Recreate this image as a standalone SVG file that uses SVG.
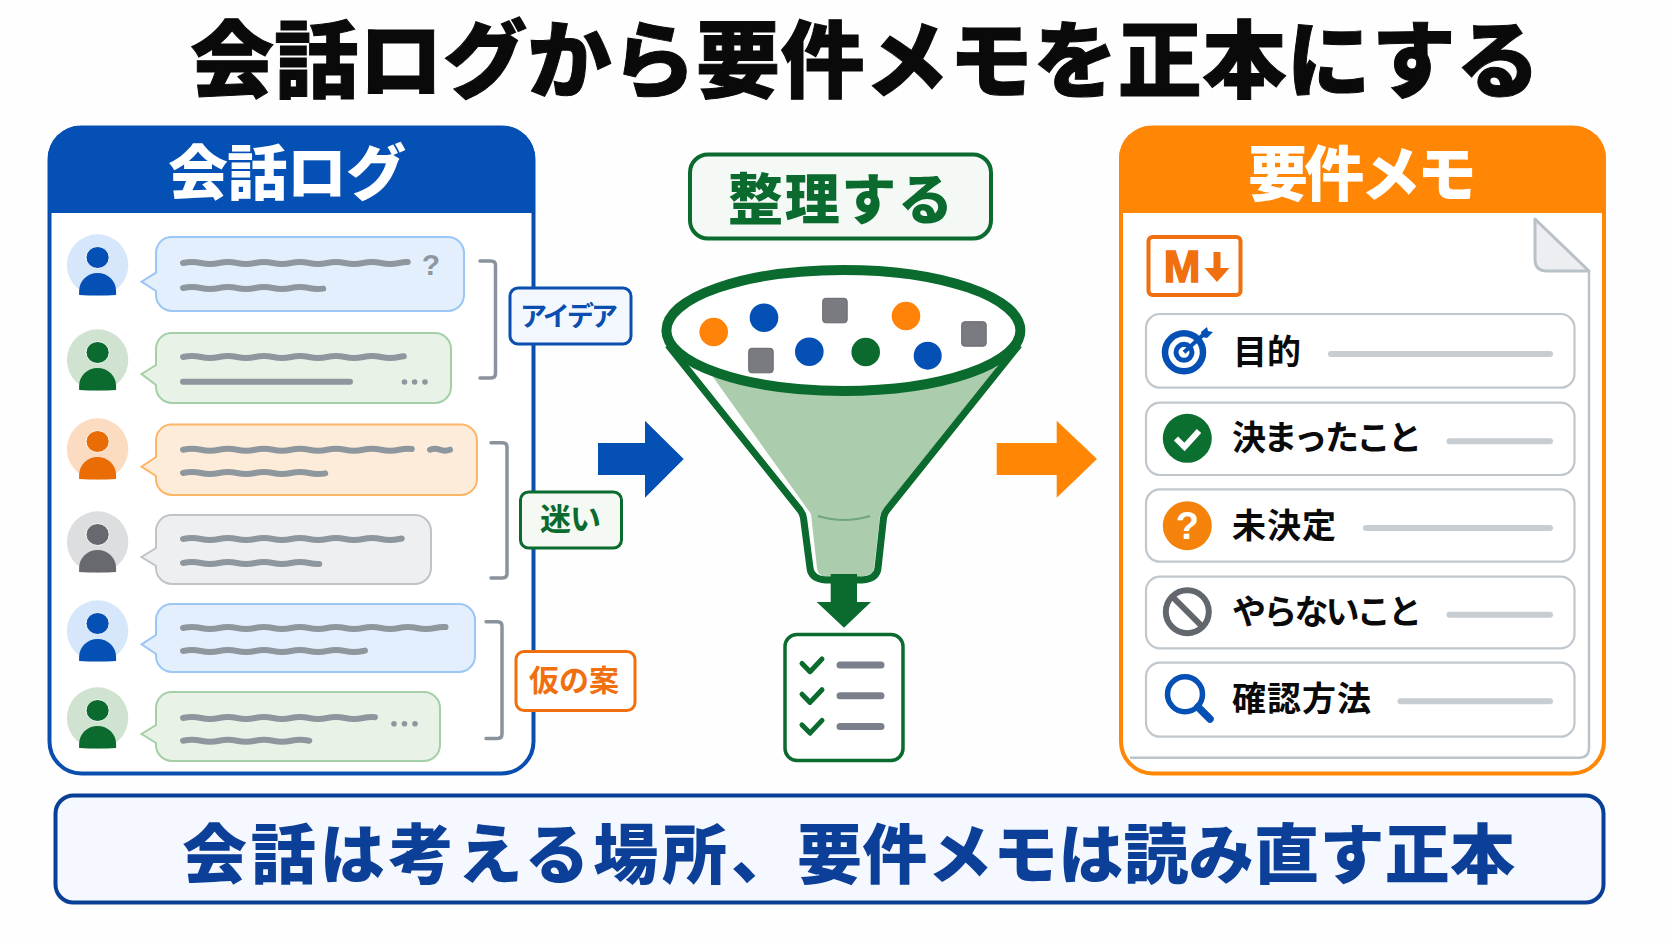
<svg xmlns="http://www.w3.org/2000/svg" width="1672" height="941" viewBox="0 0 1672 941">
<style>
text{font-family:"Liberation Sans","Noto Sans CJK JP",sans-serif;font-weight:700}
.heavy{font-weight:900}
.wave{fill:none;stroke:#8f979e;stroke-width:6;stroke-linecap:round}
.blue{fill:#e3effd;stroke:#9cc6f4}.green{fill:#e8f2e7;stroke:#a5cfa7}.orange{fill:#fdecd9;stroke:#fcb668}.gray{fill:#eeeff0;stroke:#c0c3c7}
.bracket{fill:none;stroke:#8a939b;stroke-width:3.5;stroke-linecap:round}
.row{fill:#fff;stroke:#c0c7cd;stroke-width:2.2}
.rowline{stroke:#c8cdd2;stroke-width:6;stroke-linecap:round}
.rowtext{font-size:34px;fill:#0a0a0a}
.item{fill:#7a7b80;stroke:#66686d;stroke-width:1}
.chk{fill:none;stroke:#0b6b2e;stroke-width:5;stroke-linecap:round;stroke-linejoin:round}
.bar{stroke:#7a818c;stroke-width:7;stroke-linecap:round}
.dot{fill:#8f979e}
</style>
<defs>
<path id="w" d="M0 0q9-1.900 18 0t18 0t18 0t18 0t18 0t18 0t18 0t18 0t18 0t18 0t18 0t18 0t18 0t18 0t18 0t18 0"/>
<g id="person"><ellipse cx="0" cy="-7.500" rx="11.600" ry="11" stroke="#fff" stroke-width="1"/><path d="M-18.500 30v-4a18.500 18 0 0 1 37 0v4q-18.500 1-37 0z"/></g>
</defs>
<rect width="1672" height="941" fill="#fefefe"/>
<text id="title" class="heavy" x="190" y="91" font-size="84" textLength="1350" lengthAdjust="spacing" fill="#0a0a0a" stroke="#0a0a0a" stroke-width="1">会話ログから要件メモを正本にする</text>

<g id="chat-log">
<rect x="49.500" y="127.500" width="484" height="646" rx="32" fill="#fff" stroke="#0a4fb0" stroke-width="4"/>
<path d="M48 213V158a32 32 0 0 1 32-32H503a32 32 0 0 1 32 32V213z" fill="#0550b4"/>
<text class="heavy" x="168" y="195" font-size="60" textLength="238" lengthAdjust="spacing" fill="#fff">会話ログ</text>
</g>

<g id="msg1"><circle cx="97.600" cy="265" r="30.700" fill="#d7e7fb"/><use href="#person" x="97.600" y="265" fill="#0550b4"/>
<path class="blue" stroke-width="2" d="M170 237H448a16 16 0 0 1 16 16V295a16 16 0 0 1-16 16H172a16 16 0 0 1-16-16V291L141.500 281.700 156 272.700V253a16 16 0 0 1 14-16z"/>
<use href="#w" class="wave" x="183" y="263" stroke-dasharray="226 1000"/><use href="#w" class="wave" x="183" y="288" stroke-dasharray="141 1000"/>
<text x="431" y="275" font-size="30" text-anchor="middle" fill="#8f979e">?</text></g>
<g id="msg2"><circle cx="97.600" cy="360" r="30.700" fill="#cfe3d0"/><use href="#person" x="97.600" y="360" fill="#0b6b2e"/>
<path class="green" stroke-width="2" d="M170 333H435a16 16 0 0 1 16 16V387a16 16 0 0 1-16 16H172a16 16 0 0 1-16-16V385L141.500 374 156 365V349a16 16 0 0 1 14-16z"/>
<use href="#w" class="wave" x="183" y="357" stroke-dasharray="222 1000"/><line class="wave" x1="183" y1="381.700" x2="350" y2="381.700"/>
<circle class="dot" cx="404.500" cy="382" r="2.800"/><circle class="dot" cx="414.600" cy="382" r="2.800"/><circle class="dot" cx="425" cy="382" r="2.800"/></g>
<g id="msg3"><circle cx="97.600" cy="449" r="30.700" fill="#fcdcc0"/><use href="#person" x="97.600" y="449" fill="#e96c05"/>
<path class="orange" stroke-width="2" d="M170 424.500H461a16 16 0 0 1 16 16V479a16 16 0 0 1-16 16H172a16 16 0 0 1-16-16V476L141.500 466.700 156 457V440.500a16 16 0 0 1 14-16z"/>
<use href="#w" class="wave" x="183" y="449.700" stroke-dasharray="230 1000"/><path class="wave" d="M430 449.700q5-1.900 10 0t10 0"/><use href="#w" class="wave" x="183" y="473" stroke-dasharray="143 1000"/></g>
<g id="msg4"><circle cx="97.600" cy="542" r="30.700" fill="#dcdee0"/><use href="#person" x="97.600" y="542" fill="#67696e"/>
<path class="gray" stroke-width="2" d="M170 515H415a16 16 0 0 1 16 16V568a16 16 0 0 1-16 16H172a16 16 0 0 1-16-16V566L141.500 557 156 548V531a16 16 0 0 1 14-16z"/>
<use href="#w" class="wave" x="183" y="539" stroke-dasharray="220 1000"/><use href="#w" class="wave" x="183" y="563" stroke-dasharray="137 1000"/></g>
<g id="msg5"><circle cx="97.600" cy="631" r="30.700" fill="#d7e7fb"/><use href="#person" x="97.600" y="631" fill="#0550b4"/>
<path class="blue" stroke-width="2" d="M170 604H459a16 16 0 0 1 16 16V656a16 16 0 0 1-16 16H172a16 16 0 0 1-16-16V654L141.500 644.300 156 635V620a16 16 0 0 1 14-16z"/>
<use href="#w" class="wave" x="183" y="628" stroke-dasharray="264 1000"/><use href="#w" class="wave" x="183" y="651" stroke-dasharray="183 1000"/></g>
<g id="msg6"><circle cx="97.600" cy="718" r="30.700" fill="#cfe3d0"/><use href="#person" x="97.600" y="718" fill="#0b6b2e"/>
<path class="green" stroke-width="2" d="M170 692H424a16 16 0 0 1 16 16V745a16 16 0 0 1-16 16H172a16 16 0 0 1-16-16V743L141.500 734 156 725V708a16 16 0 0 1 14-16z"/>
<use href="#w" class="wave" x="183" y="718" stroke-dasharray="193 1000"/><use href="#w" class="wave" x="183" y="740.700" stroke-dasharray="127 1000"/>
<circle class="dot" cx="394" cy="723.700" r="2.800"/><circle class="dot" cx="404.500" cy="723.700" r="2.800"/><circle class="dot" cx="415" cy="723.700" r="2.800"/></g>

<g id="connectors">
<path class="bracket" d="M480 261H491q4.500 0 4.500 4.500V373.500q0 4.500-4.500 4.500H480"/>
<path class="bracket" d="M491 442.700H502.500q4.500 0 4.500 4.500V573.500q0 4.500-4.500 4.500H491"/>
<path class="bracket" d="M486 621.700H497.500q4.500 0 4.500 4.500V734q0 4.500-4.500 4.500H486"/>
<path fill="#0550b4" d="M598 443H645V420.700L683.700 459 645 497.700V475H598z"/>
<path fill="#ff8705" d="M996.700 443H1056.700V420.700L1097 459 1056.700 497.700V475H996.700z"/>
</g>

<g id="tag-idea"><rect x="510" y="288" width="121" height="56" rx="8" fill="#f3f7fe" stroke="#0a4fb0" stroke-width="3"/><text x="520" y="326" font-size="27" textLength="98" lengthAdjust="spacing" fill="#0a4fb0">アイデア</text></g>
<g id="tag-doubt"><rect x="520.500" y="492" width="101" height="56" rx="8" fill="#f4f9f4" stroke="#0b6b2e" stroke-width="3"/><text x="540" y="530" font-size="31" textLength="61" lengthAdjust="spacing" fill="#0b6b2e">迷い</text></g>
<g id="tag-draft"><rect x="516" y="651.500" width="119" height="59" rx="8" fill="#fff" stroke="#f07010" stroke-width="3"/><text x="529" y="691" font-size="30" textLength="90" lengthAdjust="spacing" fill="#f07010">仮の案</text></g>

<g id="organize"><rect x="690" y="154.500" width="301" height="84" rx="18" fill="#f4f9f5" stroke="#0b6b2e" stroke-width="4"/><text class="heavy" x="728" y="219" font-size="55" textLength="225" lengthAdjust="spacing" fill="#0b6b2e">整理する</text></g>

<g id="funnel">
<path fill="#abcdad" d="M713 377Q850 405 998 367L880 515 874 568Q873 576 860 577H826Q818 576 817 568L811 514z"/>
<path fill="none" stroke="#0b6b2e" stroke-width="7" stroke-linejoin="round" d="M668 345L800 510Q803 514 803.500 518L810 568Q811 579 826 580H862Q877 579 878 568L883.500 518Q884 514 887 510L1019 345"/>
<ellipse cx="843.400" cy="330.400" rx="177" ry="60.500" fill="#fff" stroke="#0b6b2e" stroke-width="10"/>
<path d="M818 516Q844 524 870 516" fill="none" stroke="#6fa67f" stroke-width="2.200"/>
<circle cx="713.700" cy="332" r="14.300" fill="#ff8209"/><circle cx="764" cy="317.700" r="14.300" fill="#0550b4"/>
<rect class="item" x="822.700" y="298.300" width="24.500" height="24.500" rx="3"/>
<circle cx="906" cy="316" r="14.300" fill="#ff8209"/>
<rect class="item" x="961.700" y="321.700" width="24.500" height="24.500" rx="3"/><rect class="item" x="748.700" y="348.300" width="24.500" height="24.500" rx="3"/>
<circle cx="809.300" cy="351.700" r="14.300" fill="#0550b4"/><circle cx="865.700" cy="352" r="14.300" fill="#0b6b2e"/><circle cx="927.700" cy="355.700" r="14" fill="#0550b4"/>
<path fill="#0b6b2e" d="M830.700 574H857V602H871L844 627.700 816.700 602H830.700z"/>
</g>

<g id="checklist"><rect x="785" y="634.500" width="118" height="126" rx="12" fill="#fff" stroke="#0b6b2e" stroke-width="3.500"/>
<path class="chk" d="M802 663.500L810 671.700 822 659"/><path class="chk" d="M802 694.200L810 702.400 822 689.700"/><path class="chk" d="M802 724.900L810 733.100 822 720.400"/>
<line class="bar" x1="840" y1="665" x2="881" y2="665"/><line class="bar" x1="840" y1="695.700" x2="881" y2="695.700"/><line class="bar" x1="840" y1="726.400" x2="881" y2="726.400"/></g>

<g id="memo">
<rect x="1121" y="127.500" width="483" height="646" rx="32" fill="#fff" stroke="#ff8705" stroke-width="4"/>
<path d="M1119 213V158a32 32 0 0 1 32-32H1574a32 32 0 0 1 32 32V213z" fill="#ff8705"/>
<text class="heavy" x="1248" y="196" font-size="60" textLength="229" lengthAdjust="spacing" fill="#fff">要件メモ</text>
<path d="M1130 757.700H1579q10 0 10-10V270" fill="none" stroke="#bcc4cb" stroke-width="2.500"/>
<path d="M1535 219L1589 271H1547q-12 0-12-12z" fill="#eceef1" stroke="#b9c1c8" stroke-width="3" stroke-linejoin="round"/>
<rect x="1148.500" y="237" width="92" height="58" rx="4" fill="#fff" stroke="#f07010" stroke-width="4"/>
<text x="1182" y="282" font-size="44" text-anchor="middle" fill="#f07010" stroke="#f07010" stroke-width="1.500">M</text>
<path d="M1213.500 252H1220.500V268H1229.500L1217 282 1204.500 268H1213.500z" fill="#f07010"/>
</g>

<g id="row-goal"><rect class="row" x="1146" y="314" width="428.500" height="73.700" rx="14"/>
<circle cx="1184" cy="352.300" r="19" fill="#fff" stroke="#0550b4" stroke-width="6.500"/><circle cx="1184" cy="352.300" r="8" fill="#fff" stroke="#0550b4" stroke-width="5"/>
<path d="M1184 352.300L1204 334" stroke="#0550b4" stroke-width="4"/><path d="M1201 332l6-5 1 4 5 1-6 6-5-1z" fill="#0550b4"/>
<text class="rowtext" x="1233" y="364" textLength="68" lengthAdjust="spacing">目的</text><line class="rowline" x1="1331" y1="354" x2="1550" y2="354"/></g>
<g id="row-decided"><rect class="row" x="1146" y="402.700" width="428.500" height="72.300" rx="14"/>
<circle cx="1187.300" cy="438.300" r="24.500" fill="#0b6f30"/><path d="M1176 438.500L1184.500 447 1199 431" fill="none" stroke="#fff" stroke-width="6"/>
<text class="rowtext" x="1232" y="450" textLength="190" lengthAdjust="spacing">決まったこと</text><line class="rowline" x1="1449.500" y1="441.300" x2="1550" y2="441.300"/></g>
<g id="row-open"><rect class="row" x="1146" y="489.300" width="428.500" height="72.400" rx="14"/>
<circle cx="1187.300" cy="525.700" r="24.500" fill="#f5820a"/><text x="1187.300" y="539" font-size="38" text-anchor="middle" fill="#fff">?</text>
<text class="rowtext" x="1232" y="538" textLength="104" lengthAdjust="spacing">未決定</text><line class="rowline" x1="1366" y1="528" x2="1550" y2="528"/></g>
<g id="row-notdo"><rect class="row" x="1146" y="576.700" width="428.500" height="71.600" rx="14"/>
<circle cx="1187.300" cy="611.700" r="21.500" fill="#fff" stroke="#62676e" stroke-width="6"/><line x1="1172.300" y1="596.700" x2="1202.300" y2="626.700" stroke="#62676e" stroke-width="6"/>
<text class="rowtext" x="1232" y="624" textLength="190" lengthAdjust="spacing">やらないこと</text><line class="rowline" x1="1449.500" y1="614.700" x2="1550" y2="614.700"/></g>
<g id="row-verify"><rect class="row" x="1146" y="662.700" width="428.500" height="74" rx="14"/>
<circle cx="1185" cy="694.300" r="17.500" fill="#fff" stroke="#0550b4" stroke-width="5.500"/><line x1="1198" y1="707" x2="1210" y2="719" stroke="#0550b4" stroke-width="7.500" stroke-linecap="round"/>
<text class="rowtext" x="1232" y="711" textLength="139" lengthAdjust="spacing">確認方法</text><line class="rowline" x1="1400.500" y1="701.300" x2="1550" y2="701.300"/></g>

<g id="banner"><rect x="55.500" y="795.500" width="1548" height="107" rx="18" fill="#f5f8fe" stroke="#0a3f96" stroke-width="4"/>
<text class="heavy" y="878" font-size="65" fill="#0b3f98"><tspan x="182" textLength="614" lengthAdjust="spacing">会話は考える場所、</tspan><tspan x="797" textLength="718" lengthAdjust="spacing">要件メモは読み直す正本</tspan></text></g>
</svg>
